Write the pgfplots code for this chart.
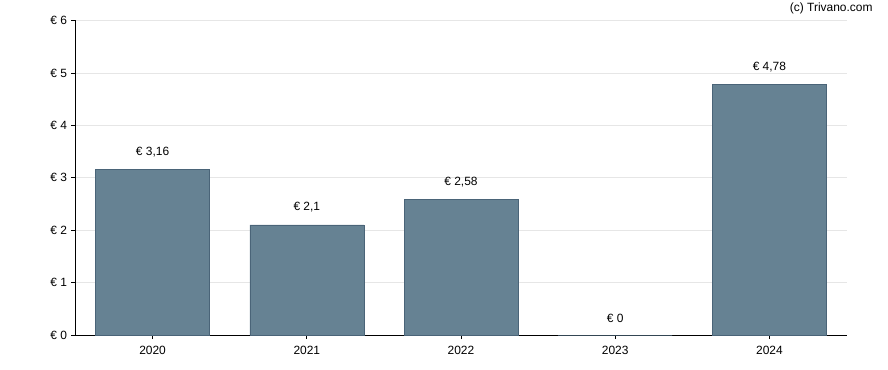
\documentclass[border=0pt]{standalone}
\usepackage{pgfplots}
\pgfplotsset{compat=1.18}
\usepackage{fontspec}
\setmainfont{Liberation Sans}
\definecolor{barfill}{HTML}{668293}
\definecolor{baredge}{HTML}{4A6478}
\definecolor{gridc}{HTML}{E6E6E6}
\begin{document}
\begin{tikzpicture}
\useasboundingbox (-75.5bp,-35bp) rectangle (812.5bp,335bp);
\begin{axis}[
  at={(0,0)}, anchor=south west,
  scale only axis,
  width=771bp, height=314.5bp,
  xmin=-0.5, xmax=4.5,
  ymin=0, ymax=6,
  axis x line=bottom, axis y line=left,
  axis line style={-, line width=0.9bp, black},
  xtick=data,
  xticklabels={2020,2021,2022,2023,2024},
  ytick={0,1,2,3,4,5,6},
  yticklabel={\texteuro\ \pgfmathprintnumber{\tick}},
  tick style={black, line width=0.8bp},
  major tick length=4bp,
  tick align=outside,
  ymajorgrids,
  grid style={gridc, line width=0.8bp},
  /pgf/number format/assume math mode=true,
  /pgf/number format/use comma,
  /pgf/number format/precision=2,
  ticklabel style={font=\fontsize{12}{14}\selectfont},
  xticklabel style={yshift=-4bp},
  yticklabel style={xshift=-1bp},
  ybar, bar width=114bp,
  nodes near coords={\texteuro\ \pgfmathprintnumber{\pgfplotspointmeta}},
  nodes near coords style={font=\fontsize{12}{14}\selectfont, yshift=9bp},
  clip=false,
]
\addplot[fill=barfill, draw=baredge, line width=0.6bp] coordinates {(0,3.16) (1,2.1) (2,2.58) (3,0) (4,4.78)};
\end{axis}
\node[anchor=east, font=\fontsize{12}{14}\selectfont] at (800.5bp,327bp) {(c) Trivano.com};
\end{tikzpicture}
\end{document}
